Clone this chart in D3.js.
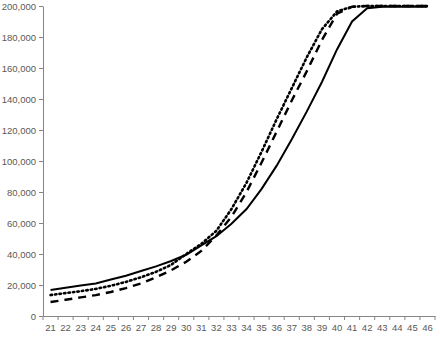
<!DOCTYPE html>
<meta charset="utf-8">
<style>
  body { margin: 0; background: #fff; }
  text { font-family: "Liberation Sans", "DejaVu Sans", sans-serif; font-size: 9.5px; fill: #595959; }
  .axis path, .axis line { stroke: #868686; }
  .line { fill: none; stroke: #000; }
  .s1 { stroke-width: 2; }
  .s2 { stroke-width: 2.6; stroke-dasharray: 1.5,3; stroke-linecap: round; }
  .s3 { stroke-width: 2.4; stroke-dasharray: 8,6; }
</style>
<svg width="440" height="339"></svg>
<script src="https://cdnjs.cloudflare.com/ajax/libs/d3/7.8.5/d3.min.js"></script>
<script>

var ages = d3.range(21, 47);
var solid = [16800, 18200, 19700, 21000, 23500, 26000, 29000, 32000, 35500, 39500,
             45500, 51500, 59500, 69000, 82000, 97000, 114000, 132000, 151000, 172000,
             190000, 198500, 199500, 199500, 199500, 199500];
var dotted = [13500, 14800, 16000, 17500, 19500, 22000, 25000, 28500, 33000, 40000,
              46500, 55000, 69000, 86000, 106000, 127000, 147000, 167000, 185000, 196500,
              199500, 200000, 200000, 200000, 200000, 200000];
var dashed = [9000, 10500, 12000, 13500, 15500, 18000, 21000, 25000, 29500, 35000,
              42000, 52000, 64000, 80000, 99000, 119000, 139000, 158000, 178000, 195000,
              199500, 200000, 200000, 200000, 200000, 200000];
var yTicks = d3.range(0, 200001, 20000);

var svg = d3.select("svg"),
    x0 = 43, x1 = 435, y0 = 316, y1 = 6;

var x = d3.scaleBand().domain(ages).range([x0, x1]);
var y = d3.scaleLinear().domain([0, 200000]).range([y0, y1]);
var fmt = d3.format(",");

// y axis
var gy = svg.append("g")
    .attr("class", "axis")
    .attr("transform", "translate(" + x0 + ",0)")
    .call(d3.axisLeft(y).tickValues(yTicks).tickFormat(fmt).tickSize(4).tickSizeOuter(0));
gy.selectAll("text").attr("x", -7);

// x axis, ticks at category boundaries
var gx = svg.append("g")
    .attr("class", "axis")
    .attr("transform", "translate(0," + y0 + ")")
    .call(d3.axisBottom(x).tickSize(0).tickSizeOuter(0).tickPadding(6));
gx.selectAll("text").attr("dy", "0.9em");
gx.selectAll(".bound")
    .data(d3.range(ages.length + 1))
  .enter().append("line")
    .attr("class", "bound")
    .attr("x1", function(i) { return x0 + i * x.step(); })
    .attr("x2", function(i) { return x0 + i * x.step(); })
    .attr("y1", 0).attr("y2", 4);

var line = d3.line()
    .x(function(d, i) { return x(ages[i]) + x.bandwidth() / 2; })
    .y(function(d) { return y(d); });

svg.append("path").datum(dashed).attr("class", "line s3").attr("d", line);
svg.append("path").datum(dotted).attr("class", "line s2").attr("d", line);
svg.append("path").datum(solid).attr("class", "line s1").attr("d", line);

</script>
